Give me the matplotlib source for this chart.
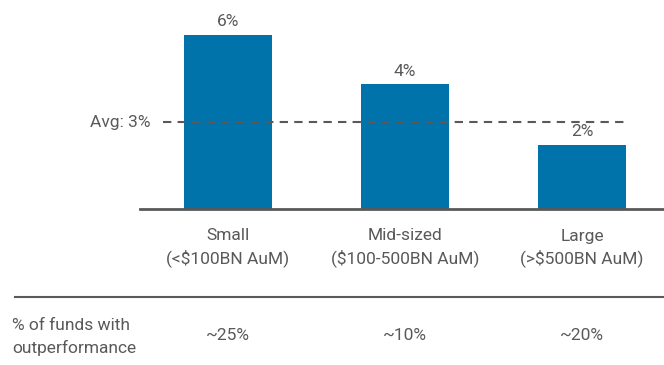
import matplotlib
matplotlib.use("Agg")
import matplotlib.pyplot as plt
from matplotlib.lines import Line2D

# Data
categories = ["Small", "Mid-sized", "Large"]
aum_ranges = ["(<$100BN AuM)", "($100-500BN AuM)", "(>$500BN AuM)"]
excess_return = [6.0, 4.3, 2.2]   # %
average_return = 3.0              # %
share_outperforming = ["~25%", "~10%", "~20%"]
row_label = "% of funds with\noutperformance"

W, H = 664, 365
BLUE = "#0073AB"
GREY = "#595959"
FS = 12.5
plt.rcParams["font.family"] = ["Roboto", "DejaVu Sans"]

fig = plt.figure(figsize=(W / 100, H / 100), dpi=100)

def fx(px):
    return px / W

def fy(py):
    return 1 - py / H

# Axes: baseline at y=209px, 29 px per percentage point
base_px, top_px = 209, 5
left_px, right_px = 140, 664
ax = fig.add_axes([fx(left_px), fy(base_px), fx(right_px - left_px), (base_px - top_px) / H])
ppu = 29.0
ax.set_ylim(0, (base_px - top_px) / ppu)
centre0, step = 228, 177
ax.set_xlim((left_px - centre0) / step, (right_px - centre0) / step)

x = list(range(len(categories)))
ax.bar(x, excess_return, width=0.5, color=BLUE, zorder=2)
for xi, v in zip(x, excess_return):
    ax.text(xi, v + 0.2, f"{v:.0f}%", ha="center", va="bottom",
            fontsize=FS, color=GREY)

# Average line
ax.plot([(163 - centre0) / step, (625 - centre0) / step], [average_return] * 2,
        ls=(0, (4, 3)), color=GREY, lw=1.5, zorder=3)
ax.text((150 - centre0) / step, average_return, f"Avg: {average_return:.0f}%",
        ha="right", va="center", fontsize=FS, color=GREY)

for s in ["top", "right", "left"]:
    ax.spines[s].set_visible(False)
ax.spines["bottom"].set_color(GREY)
ax.spines["bottom"].set_linewidth(2)
ax.set_xticks([])
ax.set_yticks([])

# Category labels under the bars
for xi, (c, r) in enumerate(zip(categories, aum_ranges)):
    cx = centre0 + xi * step
    fig.text(fx(cx), fy(236), c, ha="center", va="center", fontsize=FS, color=GREY)
    fig.text(fx(cx), fy(258), r, ha="center", va="center", fontsize=FS, color=GREY)

# Separator
fig.add_artist(Line2D([fx(15), fx(664)], [fy(297), fy(297)], color=GREY, lw=1.5))

# Bottom row
fig.text(fx(12), fy(337), row_label, ha="left", va="center", fontsize=FS,
         color=GREY, linespacing=1.5)
for xi, s in enumerate(share_outperforming):
    cx = centre0 + xi * step
    fig.text(fx(cx), fy(336), s, ha="center", va="center", fontsize=FS, color=GREY)

fig.savefig("out.png", dpi=100)
